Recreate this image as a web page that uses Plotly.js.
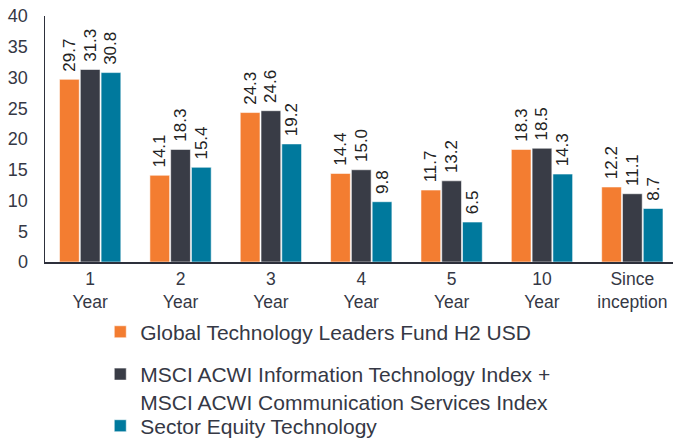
<!DOCTYPE html>
<html>
<head>
<meta charset="utf-8">
<script src="https://cdn.plot.ly/plotly-3.0.1.min.js"></script>
<style>html,body{margin:0;padding:0;background:#fff;}#chart{width:673px;height:438px;}</style>
</head>
<body>
<div id="chart"></div>
<script>
const categories = ["1<br>Year", "2<br>Year", "3<br>Year", "4<br>Year", "5<br>Year", "10<br>Year", "Since<br>inception"];
const seriesNames = [
  "Global Technology Leaders Fund H2 USD",
  "MSCI ACWI Information Technology Index +<br>MSCI ACWI Communication Services Index",
  "Sector Equity Technology"
];
const fundValues = [29.7, 14.1, 24.3, 14.4, 11.7, 18.3, 12.2];
const indexValues = [31.3, 18.3, 24.6, 15.0, 13.2, 18.5, 11.1];
const sectorValues = [30.8, 15.4, 19.2, 9.8, 6.5, 14.3, 8.7];
const colors = ["#F37D31", "#393C46", "#00799D"];
const legendIds = ["legend", "legend2", "legend3"];

const textColor = "#353845";
const font = "Liberation Sans, Arial, sans-serif";

const allValues = [fundValues, indexValues, sectorValues];
const traces = allValues.map((vals, i) => ({
  type: "bar",
  x: categories,
  y: vals,
  name: seriesNames[i],
  legend: legendIds[i],
  marker: {color: colors[i], line: {color: "rgba(255,255,255,0.7)", width: 0.8}},
  text: vals.map(v => "\u00a0" + v.toFixed(1)),
  textposition: "outside",
  textangle: -90,
  constraintext: "none",
  cliponaxis: false,
  textfont: {family: font, size: 17, color: "#222"},
  hoverinfo: "skip"
}));

function legendAt(y) {
  return {
    x: 0.088, xanchor: "left",
    y: y, yanchor: "middle",
    orientation: "v",
    valign: "top",
    font: {family: font, size: 21, color: textColor},
    bgcolor: "rgba(0,0,0,0)"
  };
}

const layout = {
  width: 673,
  height: 438,
  margin: {l: 45, r: 0, t: 16, b: 176, autoexpand: false},
  paper_bgcolor: "#fff",
  plot_bgcolor: "#fff",
  font: {family: font, color: textColor},
  barmode: "group",
  bargap: 0.31,
  bargroupgap: 0.05,
  showlegend: true,
  legend: legendAt(-0.285),
  legend2: legendAt(-0.512),
  legend3: legendAt(-0.667),
  xaxis: {
    type: "category",
    range: [-0.5, 6.45],
    showline: true,
    linecolor: "#2d303b",
    linewidth: 2,
    ticks: "",
    showgrid: false,
    tickfont: {family: font, size: 17.5, color: textColor},
    fixedrange: true
  },
  yaxis: {
    range: [0, 40],
    dtick: 5,
    showline: true,
    linecolor: "#2d303b",
    linewidth: 1.5,
    showgrid: false,
    zeroline: false,
    ticks: "",
    ticklabelstandoff: 12,
    tickfont: {family: font, size: 18, color: textColor},
    fixedrange: true
  }
};

Plotly.newPlot("chart", traces, layout, {displayModeBar: false, staticPlot: true});
</script>
</body>
</html>
